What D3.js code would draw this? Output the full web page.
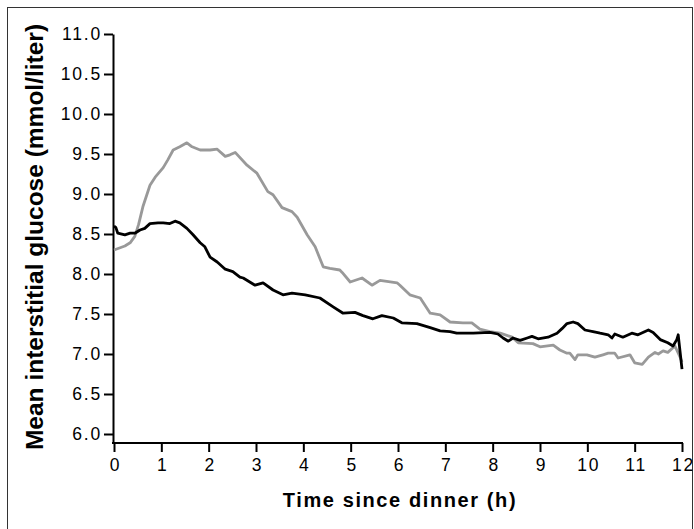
<!DOCTYPE html>
<meta charset="utf-8">
<style>
  body { margin: 0; background: #fff; }
  .tick text {
    font-family: 'Liberation Sans', Arial, sans-serif;
    font-size: 17.5px;
    letter-spacing: 1.8px;
    fill: #000;
  }
  .axis path, .axis line { stroke: #000; stroke-width: 2px; }
  .title {
    font-family: 'Liberation Sans', Arial, sans-serif;
    font-weight: bold;
    fill: #000;
  }
</style>
<body>
<script src="https://cdn.jsdelivr.net/npm/d3@7"></script>
<script>
  var width = 694,
    height = 529;

  // black line: hours since dinner / mean glucose (mmol/l)
  var blackHours = [0, 0.04, 0.08, 0.23, 0.34, 0.44, 0.55, 0.65, 0.76, 0.93, 1.04, 1.18, 1.29, 1.39, 1.54, 1.67, 1.82, 1.92,
    2.03, 2.18, 2.35, 2.51, 2.66, 2.73, 2.98, 3.15, 3.36, 3.57, 3.76, 4.04, 4.35, 4.63, 4.84, 5.09, 5.26, 5.47, 5.66, 5.9,
    6.08, 6.4, 6.68, 6.89, 7.1, 7.24, 7.59, 7.94, 8.11, 8.22, 8.33, 8.43, 8.58, 8.73, 8.83, 8.96, 9.17, 9.36, 9.47, 9.57,
    9.7, 9.8, 9.95, 10.12, 10.27, 10.44, 10.52, 10.58, 10.75, 10.94, 11.07, 11.29, 11.39, 11.54, 11.7, 11.81, 11.89, 11.92, 12];
  var blackValues = [8.6, 8.58, 8.51, 8.49, 8.51, 8.51, 8.55, 8.57, 8.63, 8.64, 8.64, 8.63, 8.66, 8.64, 8.57, 8.49, 8.39, 8.34,
    8.21, 8.15, 8.06, 8.03, 7.96, 7.95, 7.86, 7.89, 7.8, 7.74, 7.76, 7.74, 7.7, 7.59, 7.51, 7.52, 7.48, 7.44, 7.48, 7.45,
    7.39, 7.38, 7.33, 7.29, 7.28, 7.26, 7.26, 7.27, 7.25, 7.2, 7.16, 7.2, 7.17, 7.2, 7.22, 7.19, 7.21, 7.26, 7.32, 7.38,
    7.4, 7.38, 7.3, 7.28, 7.26, 7.24, 7.2, 7.25, 7.21, 7.26, 7.24, 7.3, 7.27, 7.18, 7.14, 7.1, 7.18, 7.24, 6.81];

  // grey line
  var greyHours = [0, 0.23, 0.34, 0.44, 0.52, 0.61, 0.76, 0.87, 1.04, 1.14, 1.25, 1.39, 1.54, 1.65, 1.82, 2.03, 2.18, 2.35, 2.45,
    2.56, 2.81, 3.02, 3.25, 3.36, 3.55, 3.76, 3.87, 4.08, 4.25, 4.42, 4.56, 4.77, 4.82, 4.99, 5.24, 5.45, 5.62, 5.98, 6.04,
    6.25, 6.47, 6.68, 6.89, 7.1, 7.37, 7.56, 7.73, 7.94, 8.16, 8.41, 8.54, 8.85, 9, 9.28, 9.42, 9.57, 9.63, 9.74, 9.8,
    9.99, 10.16, 10.33, 10.44, 10.58, 10.65, 10.9, 11, 11.16, 11.29, 11.43, 11.5, 11.6, 11.7, 11.85, 11.96, 12];
  var greyValues = [8.3, 8.35, 8.39, 8.47, 8.62, 8.84, 9.11, 9.21, 9.33, 9.43, 9.55, 9.59, 9.64, 9.59, 9.55, 9.55, 9.56, 9.47, 9.49,
    9.52, 9.36, 9.26, 9.03, 8.99, 8.83, 8.78, 8.71, 8.49, 8.34, 8.09, 8.07, 8.05, 8.02, 7.9, 7.95, 7.86, 7.92, 7.89, 7.86,
    7.74, 7.7, 7.51, 7.49, 7.4, 7.39, 7.39, 7.31, 7.28, 7.26, 7.21, 7.14, 7.13, 7.09, 7.11, 7.05, 7.01, 7.01, 6.93, 6.99,
    6.99, 6.96, 6.99, 7.01, 7.01, 6.95, 6.99, 6.89, 6.87, 6.96, 7.02, 7, 7.04, 7.02, 7.1, 6.96, 6.9];

  var xTicks = [0, 1, 2, 3, 4, 5, 6, 7, 8, 9, 10, 11, 12];
  var yTicks = [6.0, 6.5, 7.0, 7.5, 8.0, 8.5, 9.0, 9.5, 10.0, 10.5, 11.0];

  var svg = d3.select("body").append("svg")
    .attr("width", width)
    .attr("height", height);

  // outer frame
  svg.append("rect")
    .attr("x", 7.5).attr("y", 7.5)
    .attr("width", 685).attr("height", 540)
    .attr("fill", "none")
    .attr("stroke", "#333")
    .attr("stroke-width", 1);

  var x = d3.scaleLinear().domain([0, 12]).range([114, 682]);
  var y = d3.scaleLinear().domain([5.8875, 11]).range([443, 34]);

  var yAxis = svg.append("g")
    .attr("class", "axis")
    .attr("transform", "translate(113,0)")
    .call(d3.axisLeft(y).tickValues(yTicks).tickFormat(d3.format(".1f")).tickSize(9).tickSizeOuter(0).tickPadding(4));
  yAxis.selectAll(".tick text").attr("dx", "2px");

  var xAxis = svg.append("g")
    .attr("class", "axis")
    .attr("transform", "translate(0,443)")
    .call(d3.axisBottom(x).tickValues(xTicks).tickFormat(d3.format("d")).tickSize(9).tickSizeOuter(0).tickPadding(7));
  xAxis.select(".domain").attr("d", "M112,0H683");
  xAxis.selectAll(".tick text").attr("dx", "1px");

  var line = d3.line()
    .x(function(d) { return x(d[0]); })
    .y(function(d) { return y(d[1]); });

  svg.append("path")
    .datum(d3.zip(greyHours, greyValues))
    .attr("d", line)
    .attr("fill", "none")
    .attr("stroke", "#999")
    .attr("stroke-width", 2.8)
    .attr("stroke-linejoin", "round");

  svg.append("path")
    .datum(d3.zip(blackHours, blackValues))
    .attr("d", line)
    .attr("fill", "none")
    .attr("stroke", "#000")
    .attr("stroke-width", 2.8)
    .attr("stroke-linejoin", "round");

  svg.append("text")
    .attr("class", "title")
    .attr("x", 400).attr("y", 507)
    .attr("text-anchor", "middle")
    .style("font-size", "20px")
    .style("letter-spacing", "1.6px")
    .text("Time since dinner (h)");

  svg.append("text")
    .attr("class", "title")
    .attr("transform", "translate(43,237) rotate(-90)")
    .attr("text-anchor", "middle")
    .style("font-size", "24.5px")
    .text("Mean interstitial glucose (mmol/liter)");
</script>
</body>
